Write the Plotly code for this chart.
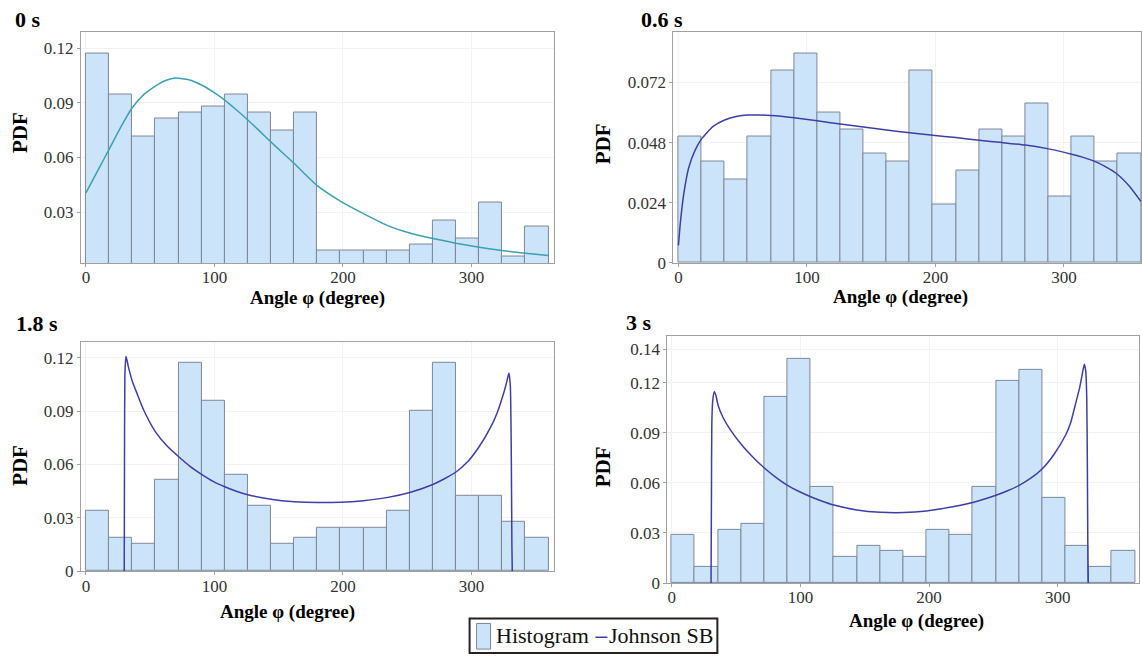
import plotly.graph_objects as go

W, H = 1142, 664

# ---------------- data ----------------
bin_centers = [9, 27, 45, 63, 81, 99, 117, 135, 153, 171,
               189, 207, 225, 243, 261, 279, 297, 315, 333, 351]
bin_width = 18

hist_0s = [0.1173, 0.0944, 0.0714, 0.0813, 0.0846, 0.0879, 0.0944, 0.0846, 0.0748, 0.0846,
           0.0087, 0.0087, 0.0087, 0.0087, 0.0123, 0.0255, 0.0152, 0.0351, 0.0054, 0.0221]
hist_06s = [0.0504, 0.0404, 0.0334, 0.0504, 0.0769, 0.0836, 0.0602, 0.0534, 0.0438, 0.0404,
            0.0769, 0.0234, 0.0368, 0.0534, 0.0504, 0.0636, 0.0267, 0.0504, 0.0404, 0.0438]
hist_18s = [0.0338, 0.0187, 0.0156, 0.0514, 0.1170, 0.0961, 0.0544, 0.0366, 0.0156, 0.0186,
            0.0244, 0.0244, 0.0244, 0.0338, 0.0902, 0.1170, 0.0426, 0.0426, 0.0277, 0.0186]
hist_3s = [0.0287, 0.0098, 0.0316, 0.0354, 0.1115, 0.1341, 0.0577, 0.0157, 0.0224, 0.0192,
           0.0157, 0.0316, 0.0287, 0.0577, 0.1212, 0.1277, 0.0511, 0.0224, 0.0098, 0.0192]

jsb_0s_angle = [0, 9, 18, 27, 36, 45, 54, 62, 70, 80, 90, 99, 108, 117, 126, 135, 144, 153,
                162, 171, 180, 198, 216, 234, 252, 270, 288, 306, 324, 342, 360]
jsb_0s_pdf = [0.0405, 0.0525, 0.0644, 0.0765, 0.0873, 0.0945, 0.0992, 0.1023, 0.1036, 0.1027,
              0.0998, 0.0960, 0.0915, 0.0862, 0.0806, 0.0746, 0.0685, 0.0626, 0.0568, 0.0505,
              0.0445, 0.0360, 0.0291, 0.0228, 0.0185, 0.0155, 0.0129, 0.0107, 0.0088, 0.0073,
              0.0061]

jsb_06s_angle = [0, 1.5, 4, 8, 13, 18, 27, 36, 45, 54, 63, 72, 90, 108, 126, 144, 162, 180,
                 198, 216, 234, 252, 270, 288, 306, 315, 324, 333, 342, 351, 360]
jsb_06s_pdf = [0.007, 0.016, 0.027, 0.038, 0.045, 0.0495, 0.0545, 0.057, 0.0584, 0.059, 0.059,
               0.0588, 0.0579, 0.0567, 0.0554, 0.0542, 0.0530, 0.0519, 0.0509, 0.0500, 0.0489,
               0.0480, 0.0470, 0.0455, 0.0434, 0.0421, 0.0405, 0.0382, 0.0352, 0.0306, 0.0245]

jsb_18s_angle = [29.8, 30.0, 30.3, 31.1, 32, 33, 36, 40, 45, 54, 63, 72, 81, 90, 99, 108, 117,
                 126, 144, 162, 180, 198, 216, 234, 252, 270, 279, 288, 297, 306, 315, 320, 324,
                 327, 329.2, 330.3, 331.0, 331.5, 331.8]
jsb_18s_pdf = [0, 0.06, 0.110, 0.1207, 0.1185, 0.115, 0.107, 0.0995, 0.0905, 0.0785, 0.0705,
               0.0645, 0.0590, 0.0545, 0.0505, 0.0475, 0.0450, 0.0430, 0.0405, 0.0391, 0.0386,
               0.0388, 0.0397, 0.0414, 0.0443, 0.0488, 0.0520, 0.0558, 0.0615, 0.0700, 0.0810,
               0.0890, 0.0975, 0.1050, 0.1115, 0.104, 0.070, 0.015, 0]

jsb_3s_angle = [30.6, 30.9, 31.2, 32, 33.2, 34.5, 36, 40, 45, 54, 63, 72, 81, 90, 99, 108, 117,
                126, 144, 162, 180, 198, 216, 234, 252, 261, 270, 279, 288, 297, 306, 310, 313.7,
                317, 319, 320.6, 321.7, 322.5, 323.0, 323.4, 323.7]
jsb_3s_pdf = [0, 0.05, 0.095, 0.110, 0.1145, 0.112, 0.1066, 0.099, 0.0925, 0.0831, 0.0755,
              0.0689, 0.0633, 0.0585, 0.0548, 0.0517, 0.0490, 0.0467, 0.0438, 0.0424, 0.0422,
              0.0432, 0.0454, 0.0483, 0.0526, 0.0553, 0.0585, 0.0628, 0.0685, 0.0770, 0.0885,
              0.0960, 0.1070, 0.1170, 0.1250, 0.1310, 0.127, 0.111, 0.068, 0.015, 0]

panel_titles = ["0 s", "0.6 s", "1.8 s", "3 s"]
x_tick_vals = [0, 100, 200, 300]
x_tick_text = ["0", "100", "200", "300"]
y_ticks = [
    ([0.03, 0.06, 0.09, 0.12], ["0.03", "0.06", "0.09", "0.12"]),
    ([0, 0.024, 0.048, 0.072], ["0", "0.024", "0.048", "0.072"]),
    ([0, 0.03, 0.06, 0.09, 0.12], ["0", "0.03", "0.06", "0.09", "0.12"]),
    ([0, 0.03, 0.06, 0.09, 0.12, 0.14], ["0", "0.03", "0.06", "0.09", "0.12", "0.14"]),
]
x_title = "Angle φ (degree)"
y_title = "PDF"
legend_labels = ["Histogram", "Johnson SB"]

# ---------------- styling / layout ----------------
BAR_FILL = "rgb(204,228,250)"
BAR_EDGE = "rgb(125,135,150)"
TEAL = "rgb(58,160,178)"
NAVY = "rgb(62,62,165)"
SERIF = "Liberation Serif, Times New Roman, serif"

# plot boxes in pixels: left, right, top, bottom
boxes = [(81, 554, 32, 267), (674, 1142, 32, 267), (81, 554, 347, 580), (668, 1140, 341, 592)]
x_ranges = [[-3.9, 363.9], [-3.9, 360], [-3.9, 363.9], [-3.3, 363.1]]
y_ranges = [[0.002, 0.1292], [0, 0.0923], [0, 0.129], [0, 0.148]]

hists = [hist_0s, hist_06s, hist_18s, hist_3s]
curves = [(jsb_0s_angle, jsb_0s_pdf, TEAL), (jsb_06s_angle, jsb_06s_pdf, NAVY),
          (jsb_18s_angle, jsb_18s_pdf, NAVY), (jsb_3s_angle, jsb_3s_pdf, NAVY)]

fig = go.Figure()
for i in range(4):
    sfx = "" if i == 0 else str(i + 1)
    fig.add_trace(go.Bar(
        x=bin_centers, y=hists[i], width=bin_width,
        marker=dict(color=BAR_FILL, line=dict(color=BAR_EDGE, width=1)),
        name=legend_labels[0], showlegend=False,
        xaxis="x" + sfx, yaxis="y" + sfx,
    ))
for i in range(4):
    sfx = "" if i == 0 else str(i + 1)
    ang, pdf, col = curves[i]
    fig.add_trace(go.Scatter(
        x=ang, y=pdf, mode="lines",
        line=dict(color=col, width=1.5, shape="spline", smoothing=0.5),
        name=legend_labels[1], showlegend=False,
        xaxis="x" + sfx, yaxis="y" + sfx,
    ))

layout = dict(
    width=W, height=H,
    margin=dict(l=0, r=0, t=0, b=0),
    paper_bgcolor="white", plot_bgcolor="white",
    font=dict(family=SERIF, color="#222"),
    showlegend=False,
    bargap=0,
)

annotations = []
shapes = []
for i in range(4):
    l, r, t, b = boxes[i]
    key = "" if i == 0 else str(i + 1)
    common = dict(
        tickfont=dict(family=SERIF, size=17, color="#333"),
        showline=True, linecolor="#a0a0a0", linewidth=1, mirror=True,
        ticks="outside", ticklen=3, tickcolor="#a0a0a0",
        showgrid=True, gridcolor="#f2f2f2", zeroline=False, fixedrange=True,
    )
    layout["xaxis" + key] = dict(
        domain=[l / W, r / W], range=x_ranges[i], anchor="y" + key,
        tickvals=x_tick_vals, ticktext=x_tick_text, ticklabelstandoff=-4, **common,
    )
    tv, tt = y_ticks[i]
    layout["yaxis" + key] = dict(
        domain=[1 - b / H, 1 - t / H], range=y_ranges[i], anchor="x" + key,
        tickvals=tv, ticktext=tt, **common,
    )

def px(x):
    return x / W

def py(y):
    return 1 - y / H

# panel titles
title_pos = [(13, 20), (640, 20), (14, 328), (625, 327)]
for (tx, ty), txt in zip(title_pos, panel_titles):
    annotations.append(dict(text="<b>%s</b>" % txt, x=px(tx), y=py(ty), xref="paper", yref="paper",
                            xanchor="left", yanchor="middle", showarrow=False,
                            font=dict(family=SERIF, size=22, color="black")))
# y-axis titles
for (tx, ty) in [(20, 134), (603, 146), (20, 472), (603, 474)]:
    annotations.append(dict(text="<b>%s</b>" % y_title, x=px(tx), y=py(ty), xref="paper", yref="paper",
                            xanchor="center", yanchor="middle", showarrow=False, textangle=-90,
                            font=dict(family=SERIF, size=21, color="black")))
# x-axis titles
for (tx, ty) in [(318, 303), (901, 302), (288, 621), (917, 630)]:
    annotations.append(dict(text="<b>%s</b>" % x_title, x=px(tx), y=py(ty), xref="paper", yref="paper",
                            xanchor="center", yanchor="middle", showarrow=False,
                            font=dict(family=SERIF, size=19, color="black")))

# legend (drawn as a framed key under the panels)
shapes.append(dict(type="rect", xref="paper", yref="paper", x0=px(470), x1=px(718), y0=py(663), y1=py(628),
                   line=dict(color="#2a2020", width=2), fillcolor="white", layer="above"))
shapes.append(dict(type="rect", xref="paper", yref="paper", x0=px(477), x1=px(491), y0=py(659), y1=py(633),
                   line=dict(color=BAR_EDGE, width=1), fillcolor=BAR_FILL, layer="above"))
shapes.append(dict(type="line", xref="paper", yref="paper", x0=px(596), x1=px(608), y0=py(647), y1=py(647),
                   line=dict(color=NAVY, width=1.5), layer="above"))
annotations.append(dict(text=legend_labels[0], x=px(494), y=py(645), xref="paper", yref="paper",
                        xanchor="left", yanchor="middle", showarrow=False,
                        font=dict(family=SERIF, size=22, color="#111")))
annotations.append(dict(text=legend_labels[1], x=px(608), y=py(645), xref="paper", yref="paper",
                        xanchor="left", yanchor="middle", showarrow=False,
                        font=dict(family=SERIF, size=22, color="#111")))

layout["annotations"] = annotations
layout["shapes"] = shapes

fig.update_layout(**layout)
fig.write_html("out.html")
